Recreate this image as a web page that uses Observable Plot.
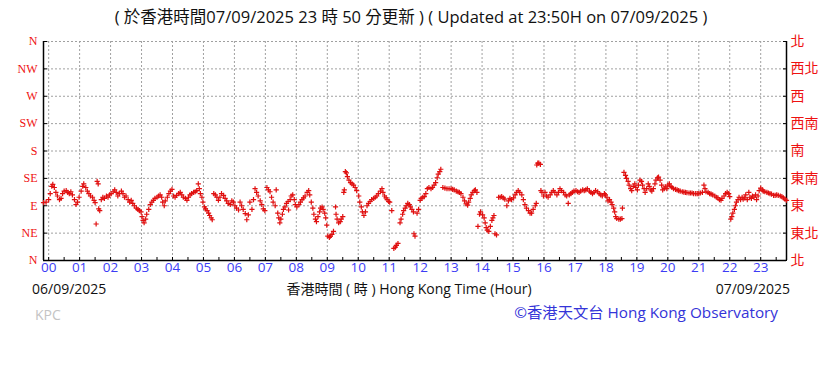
<!DOCTYPE html>
<html>
<head>
<meta charset="utf-8">
<script src="https://cdn.jsdelivr.net/npm/d3@7"></script>
<script src="https://cdn.jsdelivr.net/npm/@observablehq/plot@0.6"></script>
<style>
  html, body { margin: 0; padding: 0; background: #fff; }
  #wrap { position: relative; width: 840px; height: 365px; overflow: hidden; font-family: "Open Sans", "Noto Sans CJK TC", sans-serif; }
  #wrap svg { position: absolute; left: 0; top: 0; }
  .t { position: absolute; white-space: nowrap; line-height: 1; }
</style>
</head>
<body>
<div id="wrap"></div>
<script>
// ---- data ----
const titleText = "( 於香港時間07/09/2025 23 時 50 分更新 ) ( Updated at 23:50H on 07/09/2025 )";
const startDate = "06/09/2025";
const endDate = "07/09/2025";
const axisTitle = "香港時間 ( 時 ) Hong Kong Time (Hour)";
const stationCode = "KPC";
const credit = "©香港天文台 Hong Kong Observatory";

const dirDegrees = [0, 45, 90, 135, 180, 225, 270, 315, 360];
const dirLabelsEn = ["N", "NE", "E", "SE", "S", "SW", "W", "NW", "N"];
const dirLabelsZh = ["北", "東北", "東", "東南", "南", "西南", "西", "西北", "北"];
const hourTicks = d3.range(0, 24);           // hour gridlines / labels
const halfHourTicks = d3.range(0, 24, 0.5);  // minor ticks
const timeDomain = [-10, 1430];              // minutes since 00:00 on 06/09

// [minutes since 00:00, wind direction in degrees]
const windSamples = [
  [-10,95],[-5,96],
  [0,100],[3,110],[6,122],[8,125],[11,120],[14,112],[17,106],[21,100],[24,102],[27,110],[30,114],[34,115],[37,112],[40,110],[43,113],[46,108],[50,100],[53,92],[56,96],
  [59,104],[63,114],[66,122],[68,126],[72,120],[75,114],[78,110],[81,106],[85,104],[88,99],[90,95],[92,60],[94,130],[96,126],[97,85],[99,82],[102,100],[105,104],[108,102],[112,106],[115,104],[118,108],
  [121,110],[125,113],[128,116],[131,112],[134,106],[137,110],[141,114],[144,110],[147,104],[150,106],[154,100],[157,96],[160,99],[163,94],[166,90],[170,86],[173,84],[176,82],
  [179,80],[181,72],[183,66],[185,62],[188,68],[190,76],[194,84],[197,92],[200,96],[203,99],[206,102],[210,104],[213,106],[216,108],[219,104],[221,96],[224,90],[226,98],[230,104],[233,110],[236,114],[239,117],
  [242,106],[245,104],[248,107],[252,110],[255,112],[258,108],[261,104],[265,102],[268,99],[271,104],[274,108],[277,110],[281,112],[284,113],[287,115],[290,126],[292,118],[294,110],[297,104],[299,96],
  [302,88],[304,85],[307,82],[310,78],[312,74],[315,70],[317,67],
  [320,110],[323,108],[326,104],[329,99],[332,104],[335,110],[339,107],[342,102],[345,98],[348,94],[352,92],[355,98],[358,96],
  [361,90],[364,86],[368,83],[371,96],[374,90],[377,84],[381,77],[384,67],[387,75],[390,96],[394,84],[397,100],[400,118],[403,112],[406,106],[410,98],[413,92],[416,85],[419,82],
  [423,120],[426,116],[429,113],[432,104],[435,96],[439,90],[441,116],[444,78],[446,70],[448,62],[450,68],[453,76],[455,84],[458,88],[461,94],[464,97],[465,83],[468,100],[470,106],[473,108],[476,100],[478,92],
  [481,88],[485,92],[488,96],[491,100],[494,103],[497,106],[501,112],[504,115],[506,108],[509,96],[512,86],[514,76],[517,68],[519,64],[522,72],[525,80],[527,86],[530,88],[532,84],[535,78],[537,70],[539,58],
  [541,40],[544,38],[546,40],[549,43],[552,48],
  [556,88],[557,76],[559,68],[562,62],[565,64],[567,68],[570,72],[572,112],[573,116],[575,146],[577,144],[579,138],[582,132],[585,128],[588,126],[591,124],[594,120],[597,115],
  [601,106],[603,96],[606,88],[608,80],[611,74],[614,80],[617,90],[620,94],[623,97],[626,100],[630,102],[633,104],[636,106],[639,110],[643,114],[646,118],[648,112],[651,106],[654,103],[656,100],[659,97],
  [661,96],[665,82],[669,20],[672,22],[674,25],[677,28],
  [681,62],[683,68],[686,76],[688,82],[691,86],[693,90],[696,94],[699,92],[701,88],[704,84],[707,80],[708,44],[710,40],[714,78],[717,84],
  [720,99],[722,102],[725,104],[728,105],[731,110],[734,118],[737,120],[741,118],[744,120],[747,124],[750,128],[753,136],[755,142],[758,146],[760,150],
  [764,120],[768,119],[772,118],[776,118],
  [780,118],[783,117],[786,116],[790,114],[793,113],[796,112],[799,110],[803,104],[806,98],[809,93],[812,91],[814,96],[817,102],[819,108],[822,112],[825,115],[827,116],[830,112],[832,56],[835,76],
  [837,80],[841,75],[844,70],[846,62],[848,54],[850,50],[853,48],[856,56],[859,66],[861,70],[863,74],[865,44],[868,42],
  [872,104],[875,104],[878,105],[881,103],[884,101],[888,90],[891,98],[894,102],[897,100],
  [901,103],[904,108],[907,112],[910,115],[913,112],[917,108],[920,100],[923,92],[926,86],[930,82],[933,78],[936,78],[939,84],[943,90],[945,94],
  [946,157],[948,160],[950,160],[953,158],[954,115],
  [956,112],[959,106],[962,112],[965,106],[968,104],[972,108],[975,112],[978,115],[981,112],[985,108],[988,112],[991,118],[994,115],[998,112],[1001,108],[1004,106],[1007,94],[1009,108],[1012,110],[1015,112],[1018,114],
  [1022,115],[1025,113],[1028,112],[1031,114],[1035,116],[1038,115],[1041,116],[1044,118],[1048,114],[1051,112],[1054,110],[1057,112],[1060,115],[1064,113],[1067,110],[1070,108],[1073,106],[1077,110],[1079,108],
  [1082,104],[1084,98],[1087,100],[1090,96],[1092,92],[1095,86],[1097,80],[1099,72],[1101,69],[1105,68],[1108,68],[1111,69],[1112,86],
  [1115,145],[1118,140],[1120,135],[1123,130],[1125,124],[1128,118],[1130,115],[1133,122],[1136,126],[1138,120],
  [1141,116],[1143,124],[1146,132],[1149,130],[1151,124],[1154,118],[1156,112],[1159,118],[1162,126],[1164,122],[1167,116],[1169,114],[1172,118],[1175,126],[1177,132],[1180,136],[1182,137],[1185,132],[1188,124],[1190,116],[1193,118],[1195,121],
  [1198,118],[1200,124],[1203,126],[1206,122],[1208,120],[1211,118],[1215,117],[1218,116],[1221,115],[1224,114],[1228,113],[1231,112.5],[1234,112],[1237,111.5],[1241,111],[1244,111],[1247,111],[1250,110],[1254,110],[1257,110],[1260,110],
  [1263,111],[1267,112],[1270,124],[1272,118],[1274,113],[1278,112],[1281,110],[1284,109],[1287,108],[1291,106],[1294,104],[1297,103],[1300,100],[1303,99],[1305,102],[1309,106],[1312,110],[1315,112],[1318,110],[1320,105],
  [1322,68],[1324,72],[1326,78],[1329,84],[1331,90],[1333,96],[1336,100],[1338,104],[1341,100],[1344,104],[1346,101],[1349,103],[1351,108],[1354,100],[1357,112],[1359,104],[1362,102],[1364,106],[1367,104],[1370,108],[1372,100],[1375,106],
  [1377,115],[1380,119],[1383,116],[1385,114],[1388,113],[1392,112],[1395,111],[1398,110],[1401,109],[1405,107],[1408,107],[1411,108],[1414,107],[1418,106],[1421,105],[1424,103],[1427,101],[1430,99]
];

// ---- chart ----
const red = "#ee1111";
const blue = "#3c3cf5";
const points = windSamples.map(([m, d]) => ({minute: m, dir: d}));

const chart = Plot.plot({
  width: 840,
  height: 365,
  marginTop: 41,
  marginBottom: 105,
  marginLeft: 43,
  marginRight: 54,
  style: {background: "transparent", overflow: "visible"},
  x: {domain: timeDomain, axis: null, label: null},
  y: {domain: [0, 360], axis: null, label: null},
  marks: [
    Plot.gridX(hourTicks.map(h => h * 60), {stroke: "#a0a0a0", strokeOpacity: 1, strokeDasharray: "2,2", strokeWidth: 1}),
    Plot.gridY(dirDegrees, {stroke: "#a0a0a0", strokeOpacity: 1, strokeDasharray: "2,2", strokeWidth: 1}),
    Plot.ruleX([timeDomain[0]], {stroke: "#000", strokeWidth: 1.5}),
    Plot.ruleX([timeDomain[1]], {stroke: "#000", strokeWidth: 1.5}),
    Plot.ruleY([0], {stroke: "#000", strokeWidth: 1.5}),
    // minor ticks (inward)
    Plot.axisX(halfHourTicks.map(h => h * 60), {anchor: "bottom", tickSize: -3, text: null, stroke: "#000", label: null}),
    Plot.axisY(dirDegrees, {anchor: "left", tickSize: -4, text: null, stroke: "#000", label: null}),
    Plot.axisY(dirDegrees, {anchor: "right", tickSize: -4, text: null, stroke: "#000", label: null}),
    // hour labels
    Plot.axisX(hourTicks.map(h => h * 60), {
      anchor: "bottom", tickSize: 0, tickPadding: 2,
      tickFormat: m => String(m / 60).padStart(2, "0"),
      fill: blue, fontSize: 13.5, fontFamily: "Open Sans", label: null
    }),
    // direction labels
    Plot.axisY(dirDegrees, {
      anchor: "left", tickSize: 0, tickPadding: 6,
      tickFormat: d => dirLabelsEn[dirDegrees.indexOf(d)],
      fill: red, fontSize: 12, fontFamily: "Liberation Serif", label: null
    }),
    Plot.axisY(dirDegrees, {
      anchor: "right", tickSize: 0, tickPadding: 4,
      tickFormat: d => dirLabelsZh[dirDegrees.indexOf(d)],
      fill: red, fontSize: 14, fontFamily: "Noto Sans CJK TC", label: null
    }),
    Plot.dot(points, {x: "minute", y: "dir", symbol: "plus", r: 1.8, stroke: "#e01010", strokeWidth: 1.2, fill: "none"})
  ]
});

const wrap = document.getElementById("wrap");
wrap.appendChild(chart);

function addText(txt, css) {
  const el = document.createElement("div");
  el.className = "t";
  el.textContent = txt;
  Object.assign(el.style, css);
  wrap.appendChild(el);
  return el;
}
addText(titleText, {left: "0", width: "822px", textAlign: "center", top: "9px", fontSize: "16.5px", color: "#111"});
addText(startDate, {left: "32px", top: "282px", fontSize: "14px", color: "#111"});
addText(axisTitle, {left: "0", width: "818px", textAlign: "center", top: "282px", fontSize: "14px", color: "#111"});
addText(endDate, {right: "50px", top: "282px", fontSize: "14px", color: "#111"});
addText(stationCode, {left: "35px", top: "308px", fontSize: "14px", color: "#c4c4c4"});
addText(credit, {right: "62px", top: "305px", fontSize: "15.3px", color: "#3434d8"});
</script>
</body>
</html>
